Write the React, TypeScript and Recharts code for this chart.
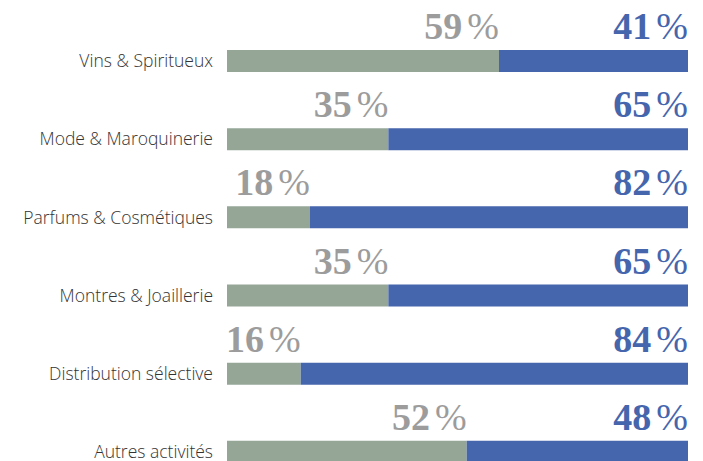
import { BarChart, Bar, XAxis, YAxis, LabelList } from 'recharts'

const categories = [
  'Vins & Spiritueux',
  'Mode & Maroquinerie',
  'Parfums & Cosmétiques',
  'Montres & Joaillerie',
  'Distribution sélective',
  'Autres activités',
]
const greenShare = [59, 35, 18, 35, 16, 52]
const blueShare = [41, 65, 82, 65, 84, 48]

const GREEN = '#95A697'
const BLUE = '#4565AD'

const data = categories.map((name, i) => ({
  name,
  green: greenShare[i],
  blue: blueShare[i],
}))

function pctLabel(color: string) {
  return (props: any) => {
    const { x, y, width, value } = props
    return (
      <text
        x={x + width}
        y={y - 11}
        textAnchor="end"
        fill={color}
        fontFamily="'Liberation Serif', serif"
        fontSize={38}
      >
        <tspan fontWeight="bold">{value}</tspan>
        <tspan dx={5} fontWeight="normal">%</tspan>
      </text>
    )
  }
}

function App() {
  return (
    <div style={{ position: 'absolute', left: 0, top: 0, width: 703, height: 461, overflow: 'hidden', background: '#fff' }}>
      <BarChart
        width={703}
        height={500}
        data={data}
        layout="vertical"
        margin={{ top: 22, right: 15, bottom: 9, left: 0 }}
        barSize={22}
      >
        <XAxis type="number" domain={[0, 100]} hide />
        <YAxis
          type="category"
          dataKey="name"
          width={227}
          axisLine={false}
          tickLine={false}
          tickSize={0}
          tickMargin={14}
          tick={{ fill: '#333', fontSize: 17.5, fontFamily: "'Open Sans', sans-serif", fontWeight: 300 }}
        />
        <Bar dataKey="green" stackId="a" fill={GREEN} isAnimationActive={false}>
          <LabelList dataKey="green" content={pctLabel('#9c9c9c')} />
        </Bar>
        <Bar dataKey="blue" stackId="a" fill={BLUE} isAnimationActive={false}>
          <LabelList dataKey="blue" content={pctLabel(BLUE)} />
        </Bar>
      </BarChart>
    </div>
  )
}

export default App
